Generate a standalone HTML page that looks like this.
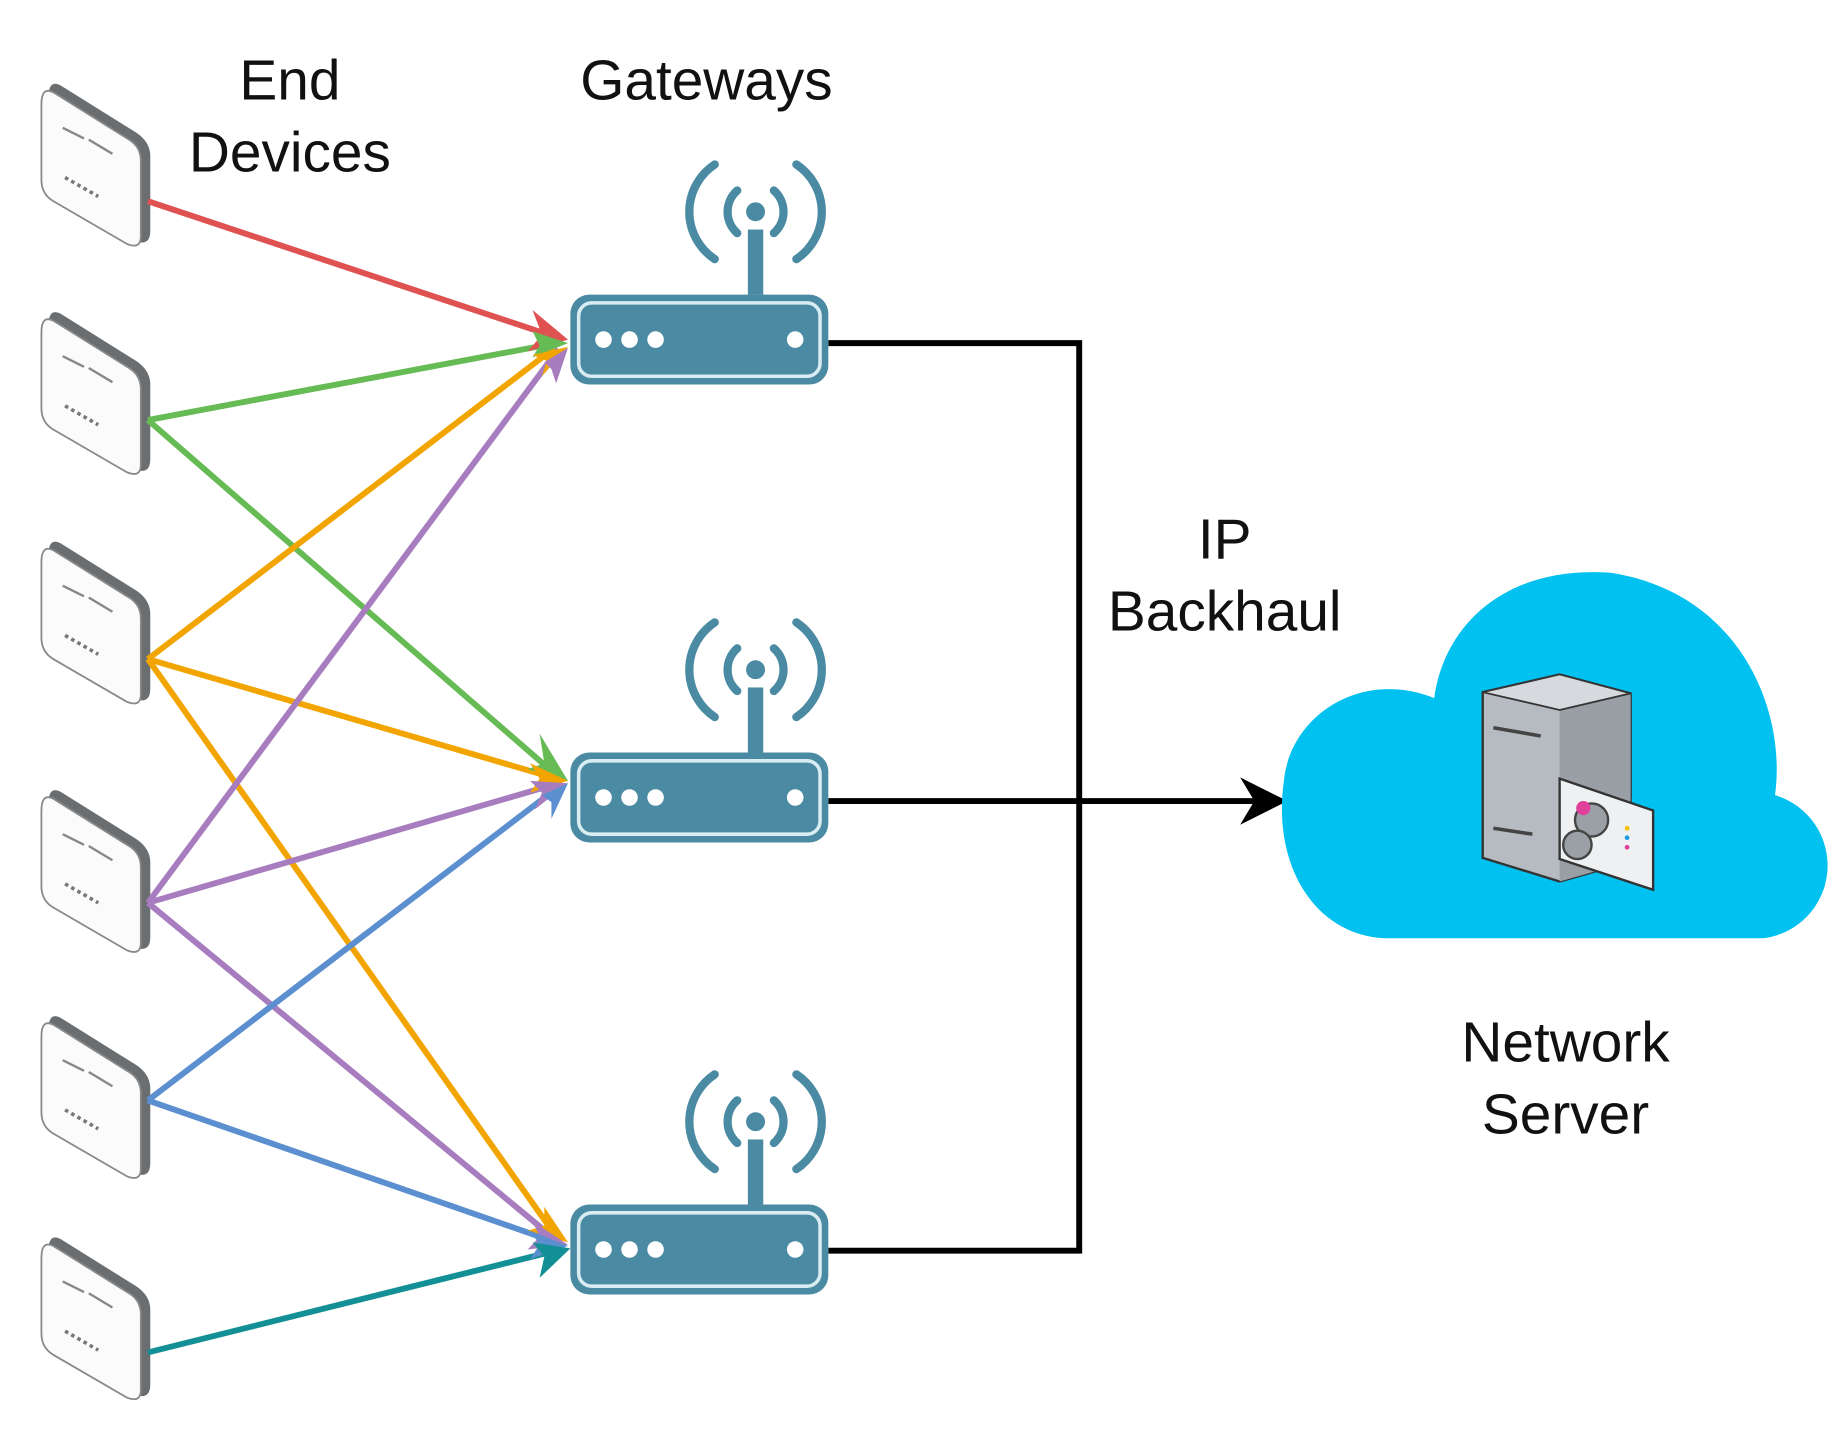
<!DOCTYPE html>
<html><head><meta charset="utf-8"><style>html,body{margin:0;padding:0;background:#fff}svg{display:block}</style></head>
<body>
<svg width="1846" height="1440" viewBox="0 0 1560 1217" preserveAspectRatio="none" xmlns="http://www.w3.org/2000/svg">
<defs>
<g id="dev">
 <path d="M16,2 L80,42 Q92,50 92,62 L92,125 Q92,138 80,134 L16,96 Q6,90 6,78 L6,12 Q6,-3 16,2 Z" fill="#6b6e70"/>
 <path d="M10,8 L74,48 Q84,54 84,66 L84,130 Q84,141 72,136 L10,100 Q0,94 0,82 L0,18 Q0,3 10,8 Z" fill="#fbfbfb" stroke="#888" stroke-width="1.5"/>
 <path d="M18,38 L36,47 M40,48 L60,60" stroke="#888" stroke-width="2"/>
 <path d="M20,80 L48,96" stroke="#777" stroke-width="3" stroke-dasharray="3,3"/>
</g>
<g id="gw">
 <rect x="0" y="0" width="218" height="76" rx="16" fill="#4a8aa2"/>
 <rect x="7" y="7" width="204" height="62" rx="11" fill="none" stroke="#d8ecf2" stroke-width="3"/>
 <circle cx="28" cy="38" r="7" fill="#fff"/><circle cx="50" cy="38" r="7" fill="#fff"/><circle cx="72" cy="38" r="7" fill="#fff"/>
 <circle cx="190" cy="38" r="7" fill="#fff"/>
 <rect x="150" y="-55" width="13" height="55" fill="#4a8aa2"/>
 <circle cx="156.5" cy="-70" r="8" fill="#4a8aa2"/>
 <path d="M141,-88 A24,24 0 0,0 141,-52 M172,-88 A24,24 0 0,1 172,-52" fill="none" stroke="#4a8aa2" stroke-width="7" stroke-linecap="round"/>
 <path d="M122,-110 A48,48 0 0,0 122,-30 M191,-110 A48,48 0 0,1 191,-30" fill="none" stroke="#4a8aa2" stroke-width="7" stroke-linecap="round"/>
</g>
<marker id="ar" viewBox="0 0 10 10" refX="9" refY="5" markerWidth="5" markerHeight="5" orient="auto" markerUnits="strokeWidth"><path d="M0,0 L10,5 L0,10 L3,5 Z" fill="context-stroke"/></marker>
</defs>

<g font-family="Liberation Sans, sans-serif" font-size="48" fill="#111" text-anchor="middle">
<text x="245" y="84">End</text><text x="245" y="145">Devices</text>
<text x="597" y="84">Gateways</text>
<text x="1035" y="472">IP</text><text x="1035" y="533">Backhaul</text>
<text x="1323" y="897">Network</text><text x="1323" y="958">Server</text>
</g>

<use href="#dev" x="35" y="70"/>
<use href="#dev" x="35" y="263"/>
<use href="#dev" x="35" y="457"/>
<use href="#dev" x="35" y="667"/>
<use href="#dev" x="35" y="858"/>
<use href="#dev" x="35" y="1045"/>

<g stroke-width="5" fill="none">
<path d="M700,290 H912 V1057 H700" stroke="#000"/>
<path d="M700,677 H1070" stroke="#000"/>
</g>
<path d="M1088,677 L1048,657 L1060,677 L1048,697 Z" fill="#000"/>

<g stroke-width="5" fill="none">
<g stroke="#e05252"><line x1="125" y1="170" x2="470" y2="285"/></g>
<g stroke="#66bb55"><line x1="125" y1="355" x2="470" y2="290"/><line x1="125" y1="355" x2="470" y2="655"/></g>
<g stroke="#f2a500"><line x1="125" y1="557" x2="470" y2="293"/><line x1="125" y1="557" x2="470" y2="658"/><line x1="125" y1="557" x2="470" y2="1045"/></g>
<g stroke="#a77dc0"><line x1="125" y1="763" x2="472" y2="295"/><line x1="125" y1="763" x2="472" y2="662"/><line x1="125" y1="763" x2="470" y2="1048"/></g>
<g stroke="#5b8fd0"><line x1="125" y1="930" x2="472" y2="665"/><line x1="125" y1="930" x2="470" y2="1050"/></g>
<g stroke="#138f96"><line x1="125" y1="1143" x2="470" y2="1057"/></g>
</g>
<g>
<path d="M480,287 L450,262 L458,283 L446,297 Z" fill="#e05252"/>
<path d="M480,290 L450,280 L456,292 L450,302 Z" fill="#66bb55"/>
<path d="M480,293 L450,300 L462,305 L458,318 Z" fill="#f2a500"/>
<path d="M480,294 L460,306 L466,312 L470,324 Z" fill="#a77dc0"/>
<path d="M480,660 L456,620 L460,645 L446,650 Z" fill="#66bb55"/>
<path d="M480,660 L448,645 L456,658 L448,670 Z" fill="#f2a500"/>
<path d="M480,662 L448,660 L458,670 L452,684 Z" fill="#a77dc0"/>
<path d="M480,662 L458,672 L466,678 L466,692 Z" fill="#5b8fd0"/>
<path d="M480,1050 L460,1020 L460,1036 L446,1040 Z" fill="#f2a500"/>
<path d="M480,1052 L450,1032 L456,1045 L446,1056 Z" fill="#a77dc0"/>
<path d="M480,1053 L448,1040 L456,1052 L448,1064 Z" fill="#5b8fd0"/>
<path d="M482,1055 L450,1050 L460,1062 L456,1080 Z" fill="#138f96"/>
</g>

<use href="#gw" x="482" y="249"/>
<use href="#gw" x="482" y="636"/>
<use href="#gw" x="482" y="1018"/>

<path d="M1170,793 H1490 A62,62 0 0,0 1500,672 C1510,600 1470,500 1360,484 C1270,478 1220,530 1212,590 C1150,565 1090,605 1085,660 C1075,730 1110,790 1170,793 Z" fill="#00c1f0"/>
<g>
<path d="M1253,585 L1318,570 L1378,586 L1378,728 L1318,745 L1253,725 Z" fill="#b6bbc2" stroke="#333" stroke-width="2"/>
<path d="M1318,587 L1378,586 L1378,728 L1318,745 Z" fill="#9a9fa5"/>
<path d="M1253,585 L1318,570 L1378,586 L1318,600 Z" fill="#d6d9dd" stroke="#333" stroke-width="1.5"/>
<line x1="1262" y1="615" x2="1302" y2="622" stroke="#444" stroke-width="3"/>
<line x1="1262" y1="700" x2="1295" y2="705" stroke="#444" stroke-width="3"/>
<path d="M1318,658 L1397,685 L1397,752 L1318,726 Z" fill="#eef0f2" stroke="#333" stroke-width="2"/>
<circle cx="1345" cy="693" r="14" fill="#9aa0a6" stroke="#444" stroke-width="2"/>
<circle cx="1333" cy="714" r="12" fill="#9aa0a6" stroke="#444" stroke-width="2"/>
<circle cx="1338" cy="683" r="6" fill="#e0409a"/>
<circle cx="1375" cy="700" r="2" fill="#f2c000"/><circle cx="1375" cy="708" r="2" fill="#1a9be0"/><circle cx="1375" cy="716" r="2" fill="#e0409a"/>
</g>
</svg>
</body></html>
